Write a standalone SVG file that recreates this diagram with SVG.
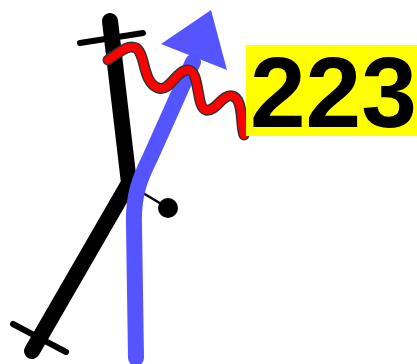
<svg xmlns="http://www.w3.org/2000/svg" width="417" height="364" viewBox="0 0 417 364">
<style>
.blk{stroke:#000;fill:none;stroke-linecap:round;stroke-linejoin:round}
.lbl{font-family:"Liberation Sans",Arial,sans-serif;font-weight:bold;font-size:100px;fill:#000}
</style>
<rect width="417" height="364" fill="#fff"/>
<g id="track">
<polyline class="blk" points="110,21 129,183 32,351" stroke-width="16"/>
<line class="blk" x1="80" y1="43" x2="143" y2="33" stroke-width="6"/>
<line class="blk" x1="13" y1="324" x2="66" y2="352" stroke-width="6"/>
</g>
<g id="pin">
<line x1="143" y1="193" x2="168" y2="208" stroke="#000" stroke-width="2.5"/>
<circle cx="168" cy="208" r="10" fill="#000"/>
</g>
<g id="arrow">
<path d="M136,358 L134,225 C133,195 140,178 150,158 L193,62" fill="none" stroke="#5555ff" stroke-width="16" stroke-linecap="round"/>
<polygon points="161,44 211,10 227,70" fill="#5555ff"/>
</g>
<g id="wiggle">
<path d="M108,60 C120,52 128,44 136,48 C146,54 142,82 158,88 C170,92 176,70 188,70 C200,70 196,108 206,110 C216,112 222,94 232,96 C244,98 240,125 244,135" fill="none" stroke="#333" stroke-width="11" stroke-linecap="round"/>
<path d="M108,60 C120,52 128,44 136,48 C146,54 142,82 158,88 C170,92 176,70 188,70 C200,70 196,108 206,110 C216,112 222,94 232,96 C244,98 240,125 244,135" fill="none" stroke="#ff0000" stroke-width="8" stroke-linecap="round"/>
</g>
<g id="label">
<rect x="246" y="45" width="171" height="91" fill="#ffff00"/>
<text class="lbl" x="250" y="127">223</text>
</g>
</svg>
